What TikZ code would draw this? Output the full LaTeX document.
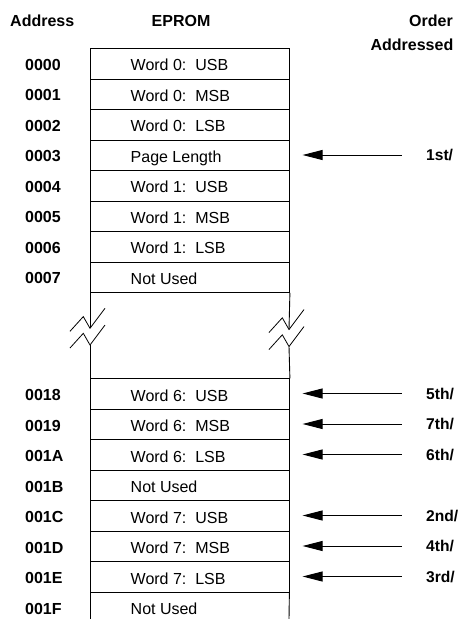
\documentclass[tikz,border=0pt]{standalone}
\usepackage{fontspec}
\setmainfont{Liberation Sans}
\usetikzlibrary{arrows.meta}
\begin{document}
\begin{tikzpicture}[x=1pt,y=-1pt,
  txt/.style={font=\fontsize{16pt}{19pt}\selectfont, inner sep=0pt},
  bold/.style={font=\fontsize{16pt}{19pt}\selectfont\bfseries, inner sep=0pt},
  cell/.style={draw, line width=0.9pt, minimum width=199pt, minimum height=30.5pt, inner sep=0pt, anchor=north west},
  opencell/.style={minimum width=199pt, minimum height=30.5pt, inner sep=0pt, anchor=north west},
  side/.style={line width=0.9pt},
  ctext/.style={txt, anchor=base west, xshift=40.5pt, yshift=-7pt},
  addr/.style={bold, anchor=base west},
  ord/.style={font=\fontsize{15.6pt}{19pt}\selectfont\bfseries, inner sep=0pt, anchor=west},
  arr/.style={line width=0.9pt, -{Triangle[length=20pt,width=10pt]}, shorten <=24.3pt, shorten >=12.7pt},
  brk/.pic={\draw[line width=0.8pt] (-20,3) -- (-6.7,-11.7) -- (0,0) -- (15,-20);}
]
\useasboundingbox (0,0) rectangle (459,619);

% headers
\node[bold, anchor=base west] (hA) at (10,26.7) {Address};
\node[bold, anchor=base] (hE) at (181,26.7) {EPROM};
\node[bold, anchor=base east] (hO1) at (453,26.7) {Order};
\node[bold, anchor=base east] (hO2) at (453.5,50) {Addressed};

% upper cells
\node[cell] (c0) at (90,48) {};
\node[cell] (c1) at (90,78.5) {};
\node[cell] (c2) at (90,109) {};
\node[cell] (c3) at (90,139.5) {};
\node[cell] (c4) at (90,170) {};
\node[cell] (c5) at (90,200.5) {};
\node[cell] (c6) at (90,231) {};
\node[cell] (c7) at (90,261.5) {};

% lower cells
\node[cell] (c8) at (90,378.3) {};
\node[cell] (c9) at (90,408.8) {};
\node[cell] (c10) at (90,439.3) {};
\node[cell] (c11) at (90,469.8) {};
\node[cell] (c12) at (90,500.3) {};
\node[cell] (c13) at (90,530.8) {};
\node[cell] (c14) at (90,561.3) {};
\node[opencell] (c15) at (90,591.8) {};

% cell texts
\node[ctext] (t0) at (c0.west) {Word 0:\ \ USB};
\node[ctext] (t1) at (c1.west) {Word 0:\ \ MSB};
\node[ctext] (t2) at (c2.west) {Word 0:\ \ LSB};
\node[ctext] (t3) at (c3.west) {Page Length};
\node[ctext] (t4) at (c4.west) {Word 1:\ \ USB};
\node[ctext] (t5) at (c5.west) {Word 1:\ \ MSB};
\node[ctext] (t6) at (c6.west) {Word 1:\ \ LSB};
\node[ctext] (t7) at (c7.west) {Not Used};
\node[ctext] (t8) at (c8.west) {Word 6:\ \ USB};
\node[ctext] (t9) at (c9.west) {Word 6:\ \ MSB};
\node[ctext] (t10) at (c10.west) {Word 6:\ \ LSB};
\node[ctext] (t11) at (c11.west) {Not Used};
\node[ctext] (t12) at (c12.west) {Word 7:\ \ USB};
\node[ctext] (t13) at (c13.west) {Word 7:\ \ MSB};
\node[ctext] (t14) at (c14.west) {Word 7:\ \ LSB};
\node[ctext] (t15) at (c15.west) {Not Used};

% addresses
\node[addr] (a0) at (25,70.25) {0000};
\node[addr] (a1) at (25,100.75) {0001};
\node[addr] (a2) at (25,131.25) {0002};
\node[addr] (a3) at (25,161.75) {0003};
\node[addr] (a4) at (25,192.25) {0004};
\node[addr] (a5) at (25,222.75) {0005};
\node[addr] (a6) at (25,253.25) {0006};
\node[addr] (a7) at (25,283.75) {0007};
\node[addr] (a8) at (25,400.55) {0018};
\node[addr] (a9) at (25,431.05) {0019};
\node[addr] (a10) at (25,461.55) {001A};
\node[addr] (a11) at (25,492.05) {001B};
\node[addr] (a12) at (25,522.55) {001C};
\node[addr] (a13) at (25,553.05) {001D};
\node[addr] (a14) at (25,583.55) {001E};
\node[addr] (a15) at (25,614.05) {001F};

% open bottom row sides
\coordinate (bl) at (90,619);
\coordinate (br) at (289,619);
\draw[side] (c15.north west) -- (bl);
\draw[side] (c15.north east) -- (br);

% break region
\coordinate (lv1) at (90,328.3);
\coordinate (lv2) at (90,345);
\coordinate (rv1) at (289,329.5);
\coordinate (rv2) at (289,346.5);
\draw[side] (c7.south west) -- (lv1);
\draw[side] (lv2) -- (c8.north west);
\draw[side] (c7.south east) -- (rv1);
\draw[side] (rv2) -- (c8.north east);
\pic at (lv1) {brk};
\pic at (lv2) {brk};
\pic at (rv1) {brk};
\pic at (rv2) {brk};

% order labels and arrows
\node[ord] (o1) at (426,155) {1st/};
\node[ord] (o5) at (426,393.5) {5th/};
\node[ord] (o7) at (426,424) {7th/};
\node[ord] (o6) at (426,454.5) {6th/};
\node[ord] (o2) at (426,515.5) {2nd/};
\node[ord] (o4) at (426,546) {4th/};
\node[ord] (o3) at (426,576.5) {3rd/};
\draw[arr] (o1.west) -- (o1.west -| c3.east);
\draw[arr] (o5.west) -- (o5.west -| c8.east);
\draw[arr] (o7.west) -- (o7.west -| c9.east);
\draw[arr] (o6.west) -- (o6.west -| c10.east);
\draw[arr] (o2.west) -- (o2.west -| c12.east);
\draw[arr] (o4.west) -- (o4.west -| c13.east);
\draw[arr] (o3.west) -- (o3.west -| c14.east);
\end{tikzpicture}
\end{document}
